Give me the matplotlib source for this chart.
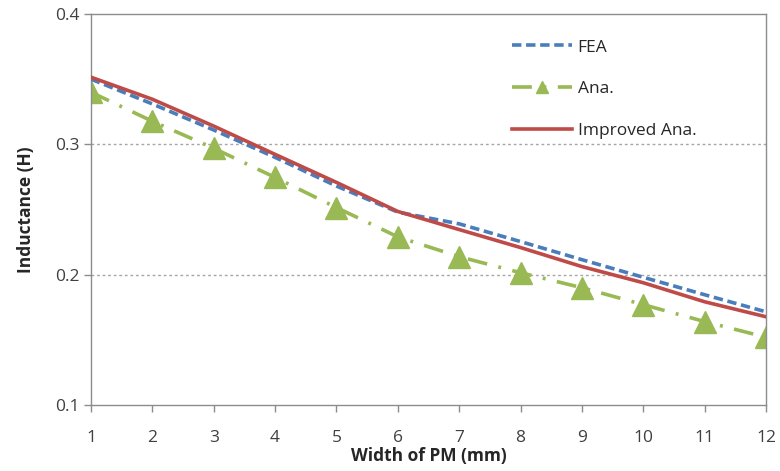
import matplotlib
matplotlib.use("Agg")
import matplotlib.pyplot as plt

width_mm = [1, 2, 3, 4, 5, 6, 7, 8, 9, 10, 11, 12]
fea = [0.350, 0.331, 0.311, 0.290, 0.268, 0.248, 0.239, 0.2254, 0.2115, 0.198, 0.1846, 0.1715]
ana = [0.340, 0.3177, 0.297, 0.2746, 0.2515, 0.229, 0.2138, 0.2015, 0.190, 0.177, 0.164, 0.152]
improved = [0.3515, 0.3346, 0.314, 0.2923, 0.2708, 0.2485, 0.2346, 0.2208, 0.2062, 0.1938, 0.1792, 0.1677]
x_ticks = list(range(1, 13))
y_ticks = [0.1, 0.2, 0.3, 0.4]

plt.rcParams['font.family'] = ['Open Sans', 'DejaVu Sans']

fig = plt.figure(figsize=(7.8, 4.71), dpi=100)
ax = fig.add_axes([91/780, 1-405/471, (766-91)/780, (405-14)/471])

blue = '#4A7EBB'
green = '#98B954'
red = '#BE4B48'

ax.plot(width_mm, fea, color=blue, lw=2.6, linestyle=(0, (2.6, 1.3)), label='FEA', zorder=3)
ax.plot(width_mm, ana, color=green, lw=2.6, linestyle=(0, (5.5, 3.2, 0.8, 3.2)),
        marker='^', markersize=16, markerfacecolor=green, markeredgecolor=green,
        label='Ana.', zorder=2)
ax.plot(width_mm, improved, color=red, lw=2.6, label='Improved Ana.', zorder=4)

ax.set_xlim(1, 12)
ax.set_ylim(0.1, 0.4)
ax.set_xticks(x_ticks)
ax.set_yticks(y_ticks)
ax.set_yticklabels([f'{v:.1f}' for v in y_ticks])

for v in [0.2, 0.3]:
    ax.axhline(v, color='#A6A6A6', lw=1.0, linestyle=(0, (2, 2)), zorder=1)

for s in ax.spines.values():
    s.set_color('#8C8C8C')
    s.set_linewidth(1.0)

ax.tick_params(axis='both', colors='#8C8C8C', labelcolor='#404040', labelsize=12.5, length=5, width=1)
ax.tick_params(axis='x', pad=13)

ax.set_xlabel('Width of PM (mm)', fontsize=12.5, fontweight='bold', color='#262626')
ax.xaxis.set_label_coords(0.5, -0.107)
ax.set_ylabel('Inductance (H)', fontsize=12.5, fontweight='bold', color='#262626', labelpad=14)

leg = ax.legend(loc='upper left', bbox_to_anchor=(0.6, 0.975), frameon=False, fontsize=12.5,
                handlelength=3.5, labelspacing=1.47, handletextpad=0.3, markerscale=0.55)
for t in leg.get_texts():
    t.set_color('#262626')

fig.savefig('out.png', dpi=100)
